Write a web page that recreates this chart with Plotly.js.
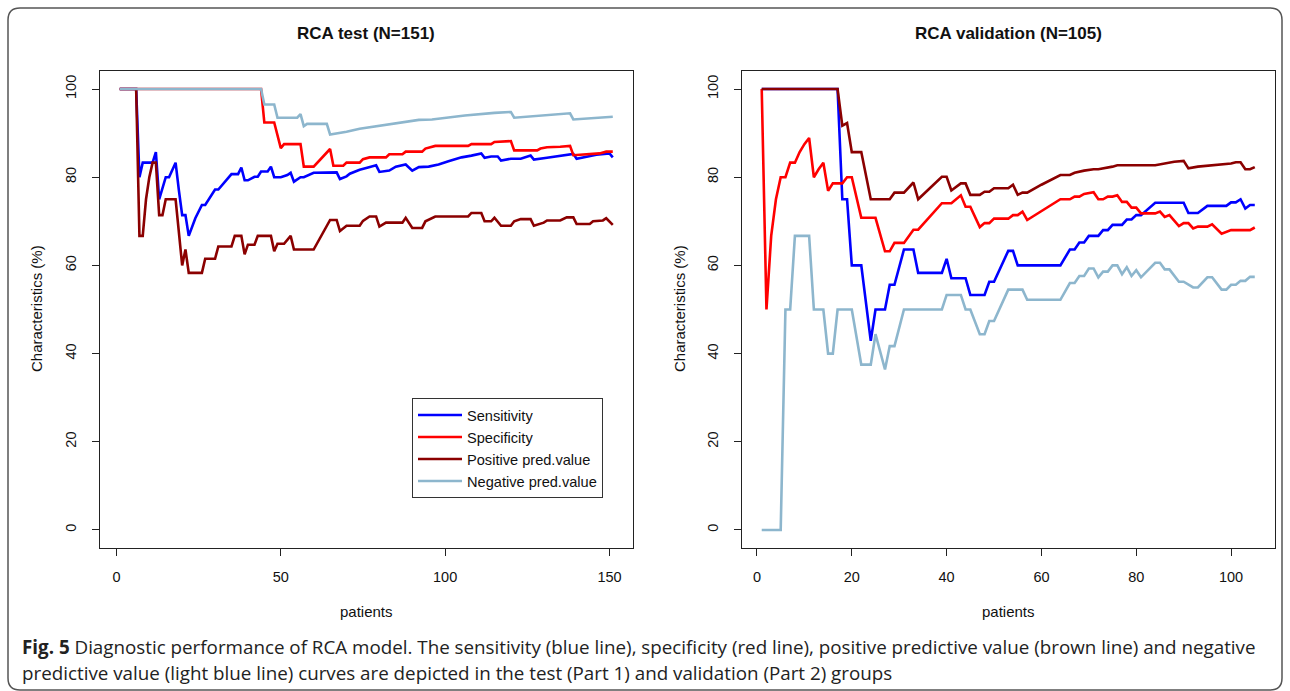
<!DOCTYPE html>
<html>
<head>
<meta charset="utf-8">
<script src="https://cdn.plot.ly/plotly-3.0.1.min.js"></script>
<style>html,body{margin:0;padding:0;background:#fff;}#chart{width:1290px;height:691px;}</style>
</head>
<body>
<div id="chart"></div>
<script>
// ---------- DATA ----------
const seriesNames = ["Sensitivity", "Specificity", "Positive pred.value", "Negative pred.value"];
const panelTitles = ["RCA test (N=151)", "RCA validation (N=105)"];
const xTicksTest = [0, 50, 100, 150];
const xTicksVal = [0, 20, 40, 60, 80, 100];
const yTicks = [0, 20, 40, 60, 80, 100];
const nTest = 151;
const nVal = 105;

// Test group (Part 1)
const testSensX = [1,6,7,8,11,12,13,14,15,16,17,18,19,20,21,22,24,26,27,30,31,33,35,37,38,39,40,42,43,44,46,47,48,50,52,53,54,56,57,60,67,68,70,71,74,76,79,80,83,85,88,90,92,95,98,101,105,108,111,112,114,116,117,120,123,126,127,131,134,139,140,143,146,150,151];
const testSensY = [100,100,80,83.3,83.3,85.7,75,77.8,80,80,81.8,83.3,77,71.4,71.4,66.7,70.7,73.7,73.7,77.2,77.2,78.9,80.7,80.7,82.2,79.3,79.3,80.1,80.1,81.3,81.3,82.4,80,80,80.5,81,79,80,80,81,81.1,79.6,80.2,80.8,81.7,82.1,82.7,81.2,81.5,82.4,82.9,81.5,82.3,82.4,82.9,83.6,84.5,84.9,85.4,84.4,84.7,84.7,83.8,84.2,84.2,84.9,84,84.4,84.7,85.3,84.2,84.7,85.1,85.4,84.5];

const testSpecX = [1,44,45,48,50,51,56,57,60,65,66,69,70,74,75,77,82,83,87,88,93,94,97,107,108,114,115,120,121,128,129,131,135,138,139,147,149,151];
const testSpecY = [100,100,92.4,92.4,86.6,87.5,87.5,82.4,82.4,86.4,82.6,82.6,83.3,83.3,84.1,84.5,84.5,85.2,85.2,85.8,85.8,86.5,87.1,87.1,87.5,87.5,88,88.2,86.1,86.1,86.5,86.8,86.9,87.1,85,85.4,85.8,85.8];

const testPpvX = [1,6,7,8,9,10,11,12,13,14,15,18,20,21,22,26,27,30,31,35,36,38,39,40,42,43,47,48,49,51,53,54,60,65,67,68,70,74,75,77,79,80,82,87,88,90,93,94,97,107,108,111,112,114,115,117,120,121,123,126,127,130,131,135,137,139,140,144,145,148,149,151];
const testPpvY = [100,100,66.7,66.7,75,80,83.3,83.3,71.4,71.4,75,75,60,63.6,58.3,58.3,61.5,61.5,64.3,64.3,66.7,66.7,62.5,64.7,64.7,66.7,66.7,63.2,64.9,64.9,66.7,63.6,63.6,70.3,70.3,67.8,69,69,70.1,71.1,71.1,68.8,69.7,69.7,70.8,68.5,68.5,70,71.1,71.1,71.9,71.9,70,70,70.8,69,69,70,70.5,70.5,69,69.7,70.2,70.2,70.9,70.9,69.4,69.4,70,70.2,70.7,69.2];

const testNpvX = [1,44,45,48,49,55,56,57,58,64,65,70,74,83,87,92,96,106,115,120,121,131,138,139,151];
const testNpvY = [100,100,96.5,96.5,93.5,93.5,94.3,91.6,92.1,92.1,89.7,90.3,91,92,92.5,93,93.1,94,94.6,94.8,93.5,94,94.5,93.1,93.7];

// Validation group (Part 2)
const valSensX = [1,17,18,19,20,22,24,25,27,28,29,31,33,34,39,40,41,44,45,48,49,50,53,54,55,64,66,67,68,69,70,72,73,74,75,77,78,79,80,81,84,90,91,93,95,99,100,101,102,103,104,105];
const valSensY = [100,100,75,75,60,60,42.9,50,50,55.6,55.6,63.6,63.6,58.3,58.3,61.5,57.1,57.1,53.3,53.3,56.3,56.3,63.3,63.3,60,60,63.6,63.6,65.2,65.2,66.7,66.7,68,68,69.2,69.2,70.4,70.4,71.4,71.4,74.2,74.2,71.9,71.9,73.5,73.5,74.3,74.3,75,72.9,73.7,73.7];

const valSpecX = [1,2,3,4,5,6,7,8,9,10,11,12,13,14,15,16,18,19,20,22,25,27,28,29,31,33,34,39,41,43,44,45,47,48,49,50,53,54,55,56,57,64,66,67,68,69,71,72,73,74,75,76,77,78,79,80,81,84,85,86,87,89,90,91,92,93,95,96,98,99,100,104,105];
const valSpecY = [100,50,66.7,75,80,80,83.3,83.3,85.7,87.5,88.9,80,81.8,83.3,76.9,78.6,78.6,80,80,70.8,70.8,63.2,63.2,65.1,65.1,68.1,68.1,74.1,74.1,75.9,73.3,73.3,68.7,69.6,69.6,70.6,70.6,71.4,71.4,72.2,70.3,75,75,75.6,75.6,76.2,76.6,75,75,75.6,75.6,75.9,74.4,74.4,73.1,73.1,71.8,71.8,72.2,71,71.4,68.9,69.6,69.6,68.4,68.8,68.8,69.3,67.2,67.6,68,68,68.6];

const valPpvX = [1,17,18,19,20,22,24,28,29,31,33,34,39,40,41,43,44,45,47,48,49,50,53,54,55,56,57,60,64,66,67,69,71,72,75,76,84,86,88,90,91,93,96,98,100,101,102,103,104,105];
const valPpvY = [100,100,91.7,92.3,85.7,85.7,75,75,76.5,76.5,78.8,75,80.1,80.1,77,78.6,78.6,76,76,76.7,76.7,77.5,77.5,78.3,76,76.5,76.5,78.3,80.5,80.5,81,81.5,81.8,81.8,82.4,82.7,82.7,83.1,83.5,83.7,82,82.4,82.7,82.8,83.1,83.4,83.4,81.8,81.8,82.3];

const valNpvX = [1,5,6,7,8,11,12,14,15,16,17,20,22,24,25,27,28,29,31,39,40,43,44,45,47,48,49,50,53,56,57,64,66,67,68,69,70,71,72,73,74,75,76,77,78,79,80,81,84,85,86,87,89,90,92,93,95,96,98,99,100,101,102,103,104,105];
const valNpvY = [0,0,50,50,66.7,66.7,50,50,40,40,50,50,37.5,37.5,44.4,36.4,41.7,41.7,50,50,53.3,53.3,50,50,44.4,44.4,47.4,47.4,54.5,54.5,52.2,52.2,56,56,57.6,57.6,59.3,59.3,57.3,58.6,58.6,60,60,58,59.6,57.6,58.9,57.3,60.6,60.6,59.1,59.1,56.3,56.3,55,55,57.3,57.3,54.5,54.5,55.6,55.6,56.5,56.5,57.4,57.4];

// ---------- STYLE ----------
const colors = ["#0000FF", "#FF0000", "#8B0000", "#8DB6CD"];
const LW = 2.6;
const W = 1290, H = 691;
const px = v => v / W;
const py = v => 1 - v / H;
const FONT = 'Liberation Sans, Arial, sans-serif';

const testSets = [[testSensX, testSensY], [testSpecX, testSpecY], [testPpvX, testPpvY], [testNpvX, testNpvY]];
const valSets = [[valSensX, valSensY], [valSpecX, valSpecY], [valPpvX, valPpvY], [valNpvX, valNpvY]];

const traces = [];
testSets.forEach((s, i) => traces.push({
  x: s[0], y: s[1], type: 'scatter', mode: 'lines', name: seriesNames[i],
  line: {color: colors[i], width: LW}, xaxis: 'x', yaxis: 'y', hoverinfo: 'skip'
}));
valSets.forEach((s, i) => traces.push({
  x: s[0], y: s[1], type: 'scatter', mode: 'lines', name: seriesNames[i], showlegend: false,
  line: {color: colors[i], width: LW}, xaxis: 'x2', yaxis: 'y2', hoverinfo: 'skip'
}));

// R-style 4% axis extension
const ext = (a, b) => [a - 0.04 * (b - a), b + 0.04 * (b - a)];

const axisCommon = {
  showgrid: false, zeroline: false, showline: true, mirror: true,
  linecolor: '#222', linewidth: 1, ticks: 'outside', ticklen: 7, tickwidth: 1, tickcolor: '#222',
  tickfont: {family: FONT, size: 14.5, color: '#111'}, fixedrange: true
};
const yDom = [py(547.6), py(71.4)];

const layout = {
  width: W, height: H,
  margin: {l: 0, r: 0, t: 0, b: 0},
  paper_bgcolor: '#fff', plot_bgcolor: '#fff',
  font: {family: FONT, size: 14, color: '#111'},
  showlegend: true,
  xaxis: Object.assign({}, axisCommon, {domain: [px(100), px(632.5)], range: ext(1, nTest), tickvals: xTicksTest, anchor: 'y', ticklabelstandoff: 9}),
  yaxis: Object.assign({}, axisCommon, {domain: yDom, range: ext(0, 100), tickvals: yTicks, tickangle: -90, anchor: 'x', ticklabelstandoff: 10}),
  xaxis2: Object.assign({}, axisCommon, {domain: [px(742), px(1274.5)], range: ext(1, nVal), tickvals: xTicksVal, anchor: 'y2', ticklabelstandoff: 9}),
  yaxis2: Object.assign({}, axisCommon, {domain: yDom, range: ext(0, 100), tickvals: yTicks, tickangle: -90, anchor: 'x2', ticklabelstandoff: 10}),
  legend: {
    x: px(412), y: py(398), xanchor: 'left', yanchor: 'top',
    bgcolor: '#fff', bordercolor: '#333', borderwidth: 1,
    font: {family: FONT, size: 14.6, color: '#111'},
    tracegroupgap: 0, itemwidth: 44
  },
  annotations: [
    {text: '<b>' + panelTitles[0] + '</b>', xref: 'paper', yref: 'paper', x: px(366), y: py(33), showarrow: false, xanchor: 'center', yanchor: 'middle', font: {size: 17, color: '#111'}},
    {text: '<b>' + panelTitles[1] + '</b>', xref: 'paper', yref: 'paper', x: px(1008), y: py(33), showarrow: false, xanchor: 'center', yanchor: 'middle', font: {size: 17, color: '#111'}},
    {text: 'patients', xref: 'paper', yref: 'paper', x: px(366), y: py(611), showarrow: false, xanchor: 'center', yanchor: 'middle', font: {size: 15, color: '#111'}},
    {text: 'patients', xref: 'paper', yref: 'paper', x: px(1008), y: py(611), showarrow: false, xanchor: 'center', yanchor: 'middle', font: {size: 15, color: '#111'}},
    {text: 'Characteristics (%)', xref: 'paper', yref: 'paper', x: px(37), y: py(309), textangle: -90, showarrow: false, xanchor: 'center', yanchor: 'middle', font: {size: 15, color: '#111'}},
    {text: 'Characteristics (%)', xref: 'paper', yref: 'paper', x: px(680), y: py(309), textangle: -90, showarrow: false, xanchor: 'center', yanchor: 'middle', font: {size: 15, color: '#111'}},
    {text: '<b>Fig. 5</b> Diagnostic performance of RCA model. The sensitivity (blue line), specificity (red line), positive predictive value (brown line) and negative',
     xref: 'paper', yref: 'paper', x: px(20), y: py(647), showarrow: false, xanchor: 'left', yanchor: 'middle',
     font: {family: 'Open Sans, Noto Sans, sans-serif', size: 18.8, color: '#222'}},
    {text: 'predictive value (light blue line) curves are depicted in the test (Part 1) and validation (Part 2) groups',
     xref: 'paper', yref: 'paper', x: px(20), y: py(673), showarrow: false, xanchor: 'left', yanchor: 'middle',
     font: {family: 'Open Sans, Noto Sans, sans-serif', size: 18.8, color: '#222'}}
  ],
  shapes: []
};

// outer rounded frame
(function () {
  const L = 8, T = 8, R = 1282, B = 690, r = 12;
  const p = (x, y) => px(x) + ',' + py(y);
  const path = 'M' + p(L + r, T) + ' L' + p(R - r, T) + ' Q' + p(R, T) + ' ' + p(R, T + r) +
    ' L' + p(R, B - r) + ' Q' + p(R, B) + ' ' + p(R - r, B) +
    ' L' + p(L + r, B) + ' Q' + p(L, B) + ' ' + p(L, B - r) +
    ' L' + p(L, T + r) + ' Q' + p(L, T) + ' ' + p(L + r, T) + ' Z';
  layout.shapes.push({type: 'path', xref: 'paper', yref: 'paper', path: path, line: {color: '#555', width: 1.5}, layer: 'below'});
})();

Plotly.newPlot('chart', traces, layout, {displayModeBar: false, staticPlot: true});
</script>
</body>
</html>
